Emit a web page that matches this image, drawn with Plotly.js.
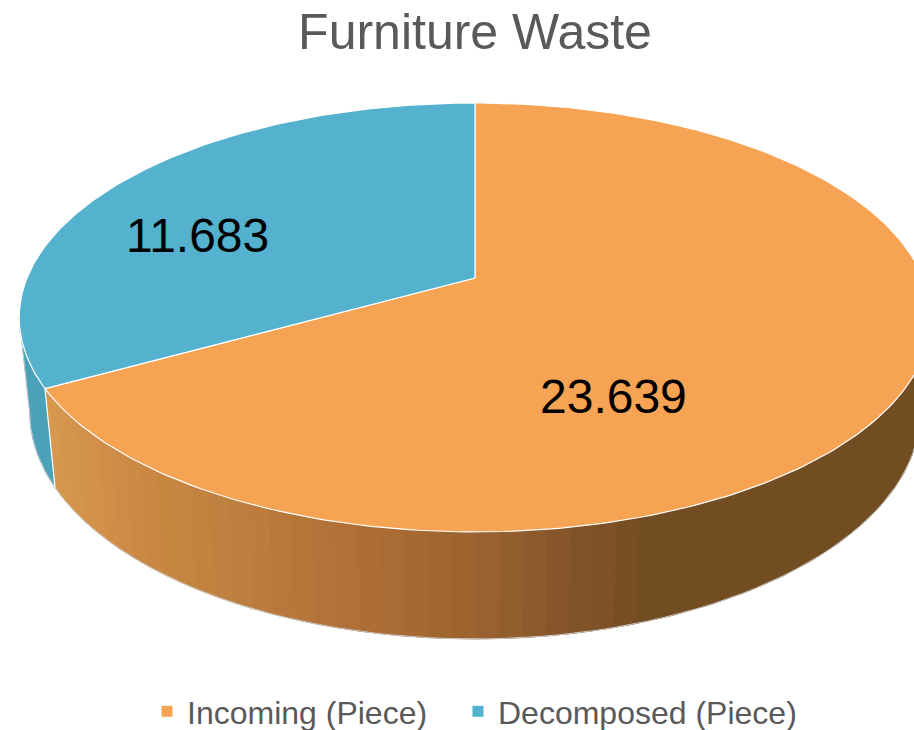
<!DOCTYPE html>
<html><head><meta charset="utf-8">
<script src="https://cdn.plot.ly/plotly-3.0.1.min.js"></script>
<style>html,body{margin:0;padding:0;background:#fff;overflow:hidden;height:730px}</style></head>
<body><div id="chart" style="width:914px;height:770px"></div>
<script>
const categories = ["Incoming (Piece)", "Decomposed (Piece)"];
const values = [23639, 11683];
const valueLabels = ["23.639", "11.683"];
const topColors = ["#F6A354", "#54B2CF"];
const blueWall = "#4BA2B8";
const wallStopX = [45, 90, 130, 175, 230, 300, 360, 430, 500, 560, 600, 650, 914];
const wallStopC = ["#D8984E","#D2904A","#CC8845","#C4863F","#BE8040","#B67539","#AE6F37","#A36830","#96602F","#86562A","#7F5126","#734D22","#734D22"];
const H = 770;
const topP = {cy:278, a:207.2, c:448, b:0.184}, botP = {cy:370.5, a:219, c:437.6, b:0.184}, cx = 475;
const rad = d => d*Math.PI/180;
function pt(p, deg){const u=Math.sin(rad(deg)), v=Math.cos(rad(deg)), w=1+p.b*v; return [cx+p.c*u/w, p.cy-p.a*v/w];}
function hex(c){return [1,3,5].map(i=>parseInt(c.substr(i,2),16));}
function wallColor(x){
  if(x<=wallStopX[0]) return wallStopC[0];
  for(let i=1;i<wallStopX.length;i++){ if(x<=wallStopX[i]){
    const t=(x-wallStopX[i-1])/(wallStopX[i]-wallStopX[i-1]), A=hex(wallStopC[i-1]), B=hex(wallStopC[i]);
    return "rgb("+A.map((q,k)=>Math.round(q+(B[k]-q)*t)).join(",")+")";
  }}
  return wallStopC[wallStopC.length-1];
}
const total = values.reduce((s,q)=>s+q,0);
const sweep0 = values[0]/total*360;
const traces = [];
// side walls
function strip(d0,d1,color){
  const xs=[],ys=[];
  const n=Math.max(1,Math.ceil(Math.abs(d1-d0)));
  for(let i=0;i<=n;i++){const p=pt(topP,d0+(d1-d0)*i/n);xs.push(p[0]);ys.push(p[1]);}
  for(let i=n;i>=0;i--){const p=pt(botP,d0+(d1-d0)*i/n);xs.push(p[0]);ys.push(p[1]);}
  xs.push(xs[0]);ys.push(ys[0]);
  traces.push({type:"scatter",mode:"lines",x:xs,y:ys,fill:"toself",fillcolor:color,line:{color:color,width:1},hoverinfo:"skip",showlegend:false});
}
const step=2.5, wallStart=95, wallEnd=259.4;
let runStart=wallStart, runColor=null;
for(let d=wallStart;d<sweep0-1e-6;d+=step){
  const e=Math.min(d+step,sweep0);
  const c=wallColor(pt(topP,(d+e)/2)[0]);
  if(runColor!==null && c!==runColor){strip(runStart,d,runColor);runStart=d;}
  runColor=c;
}
strip(runStart,sweep0,runColor);
strip(sweep0,wallEnd,blueWall);
// outer lower edge hairline
(function(){const xs=[],ys=[];for(let d=wallStart;d<=wallEnd;d+=2){const p=pt(botP,d);xs.push(p[0]);ys.push(p[1]);}
 const a=pt(topP,wallEnd);xs.push(a[0]);ys.push(a[1]);
 traces.push({type:"scatter",mode:"lines",x:xs,y:ys,line:{color:"#C8C8C8",width:1},hoverinfo:"skip",showlegend:false});})();
// divider between walls
(function(){const a=pt(topP,sweep0),b=pt(botP,sweep0);
 traces.push({type:"scatter",mode:"lines",x:[a[0],b[0]],y:[a[1],b[1]],line:{color:"#FFFFFF",width:1.2},hoverinfo:"skip",showlegend:false});})();
// top faces
let start=0;
values.forEach((v,i)=>{
  const sw=v/total*360, xs=[cx], ys=[topP.cy];
  const n=Math.ceil(sw);
  for(let k=0;k<=n;k++){const p=pt(topP,start+sw*k/n);xs.push(p[0]);ys.push(p[1]);}
  xs.push(cx);ys.push(topP.cy);
  traces.push({type:"scatter",mode:"lines",x:xs,y:ys,fill:"toself",fillcolor:topColors[i],line:{color:"#FFFFFF",width:1.2},
    name:categories[i],text:valueLabels[i],hoverinfo:"name+text",showlegend:false});
  start+=sw;
});
// legend entries
categories.forEach((c,i)=>traces.push({type:"scatter",mode:"markers",x:[-50],y:[-50],name:c,legend:i?"legend2":"legend",marker:{symbol:"square",size:11,color:topColors[i]},hoverinfo:"skip"}));
const legendBase={orientation:"h",xanchor:"left",y:(H-684)/H,yanchor:"top",font:{size:32,color:"#595959"},bgcolor:"rgba(0,0,0,0)"};
const layout={
  width:914,height:H,margin:{l:0,r:0,t:0,b:0},paper_bgcolor:"#fff",plot_bgcolor:"#fff",
  font:{family:"Liberation Sans, Arial, sans-serif"},
  title:{text:"Furniture Waste",x:475/914,xanchor:"center",y:1-31.5/H,yanchor:"middle",font:{size:50,color:"#595959"}},
  xaxis:{range:[0,914],visible:false,fixedrange:true},
  yaxis:{range:[H,0],visible:false,fixedrange:true},
  showlegend:true,
  legend:Object.assign({},legendBase,{x:147/914}),
  legend2:Object.assign({},legendBase,{x:458/914}),
  annotations:[
    {x:613.5,y:396,text:valueLabels[0],showarrow:false,font:{size:48,color:"#000"},xanchor:"center",yanchor:"middle"},
    {x:197,y:235,text:valueLabels[1],showarrow:false,font:{size:48,color:"#000"},xanchor:"center",yanchor:"middle"}
  ]
};
Plotly.newPlot("chart",traces,layout,{displayModeBar:false,staticPlot:true});
</script></body></html>
